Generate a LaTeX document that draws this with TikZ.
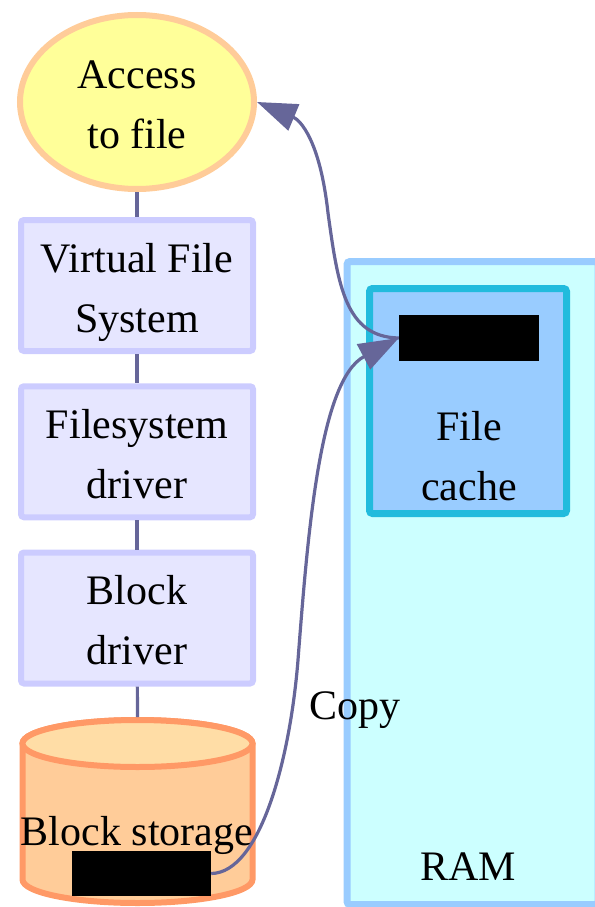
\documentclass[tikz,border=0pt]{standalone}
\usepackage{fontspec}
\setmainfont{Liberation Serif}
\usepackage{tikz}
\usetikzlibrary{
    shapes.geometric,      % Ellipse shape
    arrows.meta            % Triangle arrow tips
}

% Colours
\definecolor{edgecol}{HTML}{666699}
\definecolor{goalfill}{HTML}{FFFF99}
\definecolor{goalline}{HTML}{FFCC99}
\definecolor{layerfill}{HTML}{E6E6FF}
\definecolor{layerline}{HTML}{CCCCFF}
\definecolor{diskfill}{HTML}{FFCC99}
\definecolor{disktop}{HTML}{FFDDA6}
\definecolor{diskline}{HTML}{FF9966}
\definecolor{ramfill}{HTML}{CCFFFF}
\definecolor{ramline}{HTML}{99CCFF}
\definecolor{cachefill}{HTML}{99CCFF}
\definecolor{cacheline}{HTML}{22BBDD}

\tikzset{
    txt/.style={font=\fontsize{42}{60}\selectfont, align=center},
    % two-line labels: last baseline sits 46.5pt below the centre
    twoline/.style={txt, text height=93pt, text depth=0pt},
    goal/.style={ellipse, draw=goalline, fill=goalfill, line width=6pt,
        minimum width=234pt, minimum height=174pt, inner sep=0pt, twoline},
    layer/.style={rectangle, rounded corners=3pt, draw=layerline, fill=layerfill,
        line width=6pt, minimum width=232pt, minimum height=131pt, inner sep=0pt,
        twoline},
    disk/.style={draw=diskline, fill=diskfill, line width=6pt},
    region/.style={rectangle, rounded corners=3pt, line width=7pt, inner sep=0pt},
    blob/.style={rectangle, fill=black, inner sep=0pt},
    link/.style={draw=edgecol, line width=3.2pt},
    flow/.style={draw=edgecol, line width=3.2pt,
        -{Triangle[length=40pt,width=28pt]}, fill=none},
}

\begin{document}
\begin{tikzpicture}[x=1pt, y=-1pt]
    \useasboundingbox (0,0) rectangle (594,907);

    % memory side
    \node[region, draw=ramline, fill=ramfill, minimum width=251pt,
        minimum height=643pt] (ram) at (472.5,583) {};
    \node[region, draw=cacheline, fill=cachefill, minimum width=197pt,
        minimum height=225pt] (cache) at (468,401) {};
    \node[txt, anchor=base] (ramlbl) at (468,880) {RAM};
    \node[txt, anchor=base] (cachelbl) at (469,500) {File\\cache};
    \node[blob, minimum width=140pt, minimum height=46pt] (cacheblk) at (469,338) {};

    % the stack
    \node[goal] (access) at (137,102) {Access\\to file};
    \node[layer] (vfs) at (137,285.5) {Virtual File\\System};
    \node[layer] (fsdrv) at (137,451.75) {Filesystem\\driver};
    \node[layer] (blkdrv) at (137,618) {Block\\driver};

    % storage drum
    \path[disk] (22.5,743.5) -- (22.5,879.5)
        arc[start angle=180, end angle=0, x radius=115, y radius=23.5]
        -- (252.5,743.5)
        arc[start angle=0, end angle=-180, x radius=115, y radius=23.5] -- cycle;
    \path[disk, fill=disktop] (137.5,743.5) ellipse [x radius=115, y radius=23.5];
    \coordinate (storage) at (137.5,717);
    \node[txt, anchor=base] (storelbl) at (137,845) {Block storage};
    \node[blob, minimum width=139pt, minimum height=45pt] (storeblk) at (141.5,873.5) {};

    \draw[link] (access) -- (vfs);
    \draw[link] (vfs) -- (fsdrv);
    \draw[link] (fsdrv) -- (blkdrv);
    \draw[link] (blkdrv) -- (storage);

    % copy into the cache, then back up to the reader
    \draw[flow] (storeblk.east) .. controls (260,873) and (290,760) .. (298,660)
        .. controls (308,530) and (320,380) .. (cacheblk.west);
    \draw[flow] (cacheblk.west) .. controls (345,337) and (338,285) .. (328,213)
        .. controls (320,140) and (300,120) .. (access.east);
    \node[txt, anchor=base] (copylbl) at (355,719) {Copy};
\end{tikzpicture}
\end{document}
